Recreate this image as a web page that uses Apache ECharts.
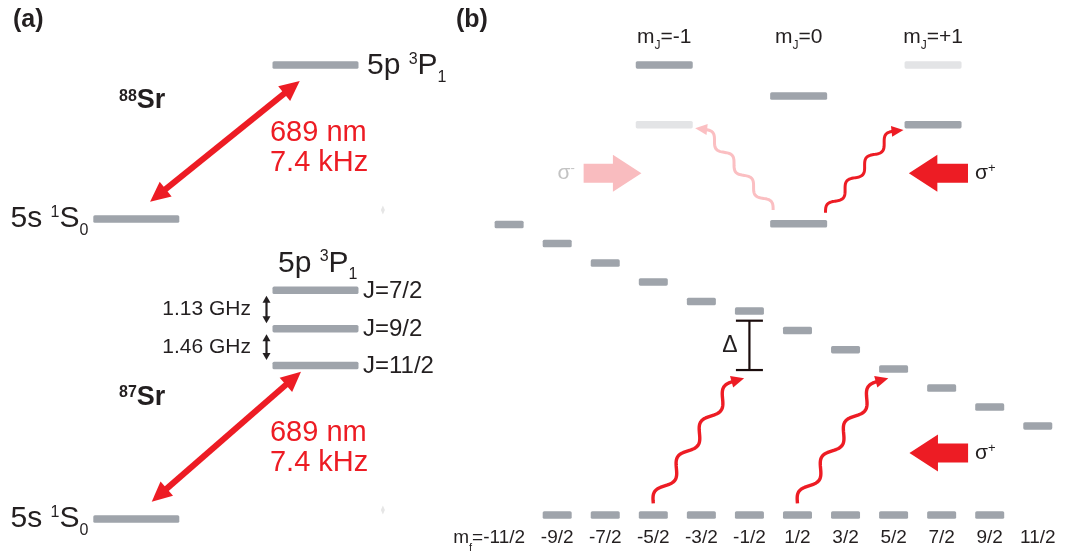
<!DOCTYPE html>
<html>
<head>
<meta charset="utf-8">
<style>
  html, body { margin: 0; padding: 0; background: #ffffff; }
  #chart { width: 1066px; height: 554px; }
</style>
<script src="https://cdn.jsdelivr.net/npm/echarts@6.0.0/dist/echarts.min.js"></script>
</head>
<body>
<div id="chart"></div>
<script>
// ---------------- (a) strontium 689 nm intercombination line ----------------
// schematic level energies (arbitrary units); column 0 = ground, 1 = excited
const sr88Ground = 30.0;                     // 5s 1S0
const sr88Excited = 45.4;                    // 5p 3P1
const sr87Ground = 0.0;                      // 5s 1S0
const sr87Hyperfine = [22.87, 19.03, 15.35]; // 5p 3P1 hyperfine manifold
const hyperfineNames = ['J=7/2', 'J=9/2', 'J=11/2'];
const hyperfineGaps = ['1.13 GHz', '1.46 GHz'];
const lineText = ['689 nm', '7.4 kHz'];
// 689 nm double arrows: [x0, E0, x1, E1]
const sr88Arrow = [0.077, 31.73, 0.912, 43.8];
const sr87Arrow = [0.086, 1.73, 0.919, 14.73];

// ---------------- (b) Zeeman sublevels ----------------
const mfTicks = ['-11/2', '-9/2', '-7/2', '-5/2', '-3/2', '-1/2', '1/2', '3/2', '5/2', '7/2', '9/2', '11/2'];
const mfValues = [-5.5, -4.5, -3.5, -2.5, -1.5, -0.5, 0.5, 1.5, 2.5, 3.5, 4.5, 5.5];
const mfExcitedE = [15.13, 14.14, 13.12, 12.14, 11.12, 10.62, 9.61, 8.61, 7.60, 6.61, 5.62, 4.64];
const mfGroundValues = [-4.5, -3.5, -2.5, -1.5, -0.5, 0.5, 1.5, 2.5, 3.5, 4.5];
const mfGroundE = 0;
// detuning bracket: [mF, upper E, lower E]
const deltaBracket = [-0.5, 10.12, 7.55];
// pumping photons: [mF0, E0, mF1, E1]
const mfPhotons = [[-2.5, 0.61, -0.61, 7.12], [0.5, 0.61, 2.39, 7.12]];
// sigma+ beam: [tail mF, tip mF, E]
const mfSigmaPlusBeam = [4.05, 2.83, 3.23];

// 88Sr J=0 -> J=1 Zeeman structure
const mjTicks = ['-1', '0', '+1'];
const mjValues = [-1, 0, 1];
const mjUpperE = [23.44, 21.82, 20.33];   // dressed levels
const mjFadedE = [20.33, null, 23.44];    // faded levels
const mjGroundE = 15.17;
// photons: [mJ0, E0, mJ1, E1]
const mjPhotonFaded = [-0.19, 15.89, -0.77, 20.14];
const mjPhotonActive = [0.20, 15.74, 0.78, 20.05];
// beams: [tail mJ, tip mJ, E]
const mjSigmaMinusBeam = [-1.60, -1.17, 17.8];
const mjSigmaPlusBeam = [1.26, 0.82, 17.8];

// ---------------- styling ----------------
const FONT = '"Liberation Sans", Arial, Helvetica, sans-serif';
const INK = '#231f20';
const LEVEL = '#9fa4ab';
const LEVEL_FADED = '#e3e4e6';
const RED = '#ed1c24';
const PINK = '#f9bcbf';
const PINK_WAVE = '#fbbfc2';
const SIGMA_FADED = '#c3c3c3';
const BAR_A = 86, BAR_MF = 29, BAR_MJ = 57, BAR_H = 7.5;

// rounded bar outline used as the level symbol
function barPath(w, h, r) {
  return 'path://M' + r + ',0H' + (w - r) + 'Q' + w + ',0 ' + w + ',' + r +
    'V' + (h - r) + 'Q' + w + ',' + h + ' ' + (w - r) + ',' + h +
    'H' + r + 'Q0,' + h + ' 0,' + (h - r) + 'V' + r + 'Q0,0 ' + r + ',0Z';
}

function tok(size, extra) {
  return Object.assign({ fontFamily: FONT, fontSize: size }, extra || {});
}
const LEVEL_RICH = {
  sup: tok(16, { padding: [0, 0, 13, 0] }),
  sub: tok(16, { padding: [23, 0, 0, 0] })
};
const ISO_RICH = { sup: tok(16, { fontWeight: 'bold', padding: [0, 0, 9, 0] }) };
const SIGMA_RICH = { sup: tok(13, { padding: [0, 0, 9, 0] }) };
const MJ_RICH = { sub: tok(12, { padding: [17, 0, 0, 0] }) };

function label(x, y, text, o) {
  o = o || {};
  const style = {
    text: text,
    fill: o.fill || INK,
    fontFamily: FONT,
    fontSize: o.size || 30,
    fontWeight: o.weight || 'normal',
    align: o.align || 'left',
    verticalAlign: 'middle'
  };
  if (o.lineHeight) style.lineHeight = o.lineHeight;
  if (o.rich) style.rich = o.rich;
  return { type: 'text', x: x, y: y, silent: true, style: style };
}

function head(tip, dir, len, half, color) {
  const bx = tip[0] - dir[0] * len, by = tip[1] - dir[1] * len;
  const nx = -dir[1], ny = dir[0];
  return {
    type: 'polygon',
    shape: { points: [tip, [bx + nx * half, by + ny * half], [bx - nx * half, by - ny * half]] },
    style: { fill: color, stroke: null }
  };
}

function doubleArrow(p0, p1, width, len, half, color) {
  const dx = p1[0] - p0[0], dy = p1[1] - p0[1], L = Math.hypot(dx, dy);
  const u = [dx / L, dy / L];
  return [
    { type: 'line',
      shape: { x1: p0[0] + u[0] * (len - 2), y1: p0[1] + u[1] * (len - 2),
               x2: p1[0] - u[0] * (len - 2), y2: p1[1] - u[1] * (len - 2) },
      style: { stroke: color, lineWidth: width } },
    head(p1, u, len, half, color),
    head(p0, [-u[0], -u[1]], len, half, color)
  ];
}

// photon: sine wave along the transition, ending in an arrowhead
function photon(p0, p1, halfPeriods, k, width, color, len, half) {
  function frame(a, b) {
    const dx = b[0] - a[0], dy = b[1] - a[1], L = Math.hypot(dx, dy);
    const u = [dx / L, dy / L];
    let n = [-u[1], u[0]];
    if (n[0] * u[0] > 0) n = [-n[0], -n[1]];
    return { L: L, u: u, n: n };
  }
  let f = frame(p0, p1);
  let te = [f.u[0] - k * f.n[0], f.u[1] - k * f.n[1]];
  let tl = Math.hypot(te[0], te[1]);
  te = [te[0] / tl, te[1] / tl];
  const q = [p1[0] - te[0] * len * 0.8, p1[1] - te[1] * len * 0.8];
  f = frame(p0, q);
  const lambda = 2 * f.L / halfPeriods;
  const A = k * lambda / (2 * Math.PI);
  const pts = [];
  const N = 120;
  for (let i = 0; i <= N; i++) {
    const s = f.L * i / N;
    const off = A * Math.sin(Math.PI * halfPeriods * i / N);
    pts.push([p0[0] + f.u[0] * s + f.n[0] * off, p0[1] + f.u[1] * s + f.n[1] * off]);
  }
  return [
    { type: 'polyline', shape: { points: pts },
      style: { stroke: color, lineWidth: width, fill: null, lineJoin: 'round' } },
    head(p1, te, len, half, color)
  ];
}

function beam(tailX, tipX, cy, color) {
  const s = Math.sign(tipX - tailX);
  const hl = 28.5, sh = 9.5, hh = 18.5;
  const hb = tipX - s * hl;
  return {
    type: 'polygon',
    shape: { points: [[tailX, cy - sh], [hb, cy - sh], [hb, cy - hh], [tipX, cy],
                      [hb, cy + hh], [hb, cy + sh], [tailX, cy + sh]] },
    style: { fill: color, stroke: null }
  };
}

// ---------------- panel (a) annotations ----------------
function renderPanelA(params, api) {
  const P = (x, e) => api.coord([x, e]);
  const half = BAR_A / 2;
  const out = [];
  out.push.apply(out, doubleArrow(P(sr88Arrow[0], sr88Arrow[1]), P(sr88Arrow[2], sr88Arrow[3]), 6, 20, 9.5, RED));
  out.push.apply(out, doubleArrow(P(sr87Arrow[0], sr87Arrow[1]), P(sr87Arrow[2], sr87Arrow[3]), 6, 20, 9.5, RED));

  const g88 = P(0, sr88Ground), e88 = P(1, sr88Excited), g87 = P(0, sr87Ground);
  out.push(label(g88[0] - half - 5, g88[1], '5s {sup|1}S{sub|0}', { align: 'right', rich: LEVEL_RICH }));
  out.push(label(g87[0] - half - 5, g87[1], '5s {sup|1}S{sub|0}', { align: 'right', rich: LEVEL_RICH }));
  out.push(label(e88[0] + half + 8.5, e88[1] + 1, '5p {sup|3}P{sub|1}', { rich: LEVEL_RICH }));

  const hf = sr87Hyperfine.map(e => P(1, e));
  out.push(label(hf[0][0] - half + 5.5, hf[0][1] - 27, '5p {sup|3}P{sub|1}', { rich: LEVEL_RICH }));
  hf.forEach((p, i) => {
    out.push(label(p[0] + half + 4.5, p[1] + 1, hyperfineNames[i], { size: 24 }));
  });
  const ax = hf[0][0] - half - 6;
  for (let i = 0; i < 2; i++) {
    const top = [ax, hf[i][1] + 5.5], bot = [ax, hf[i + 1][1] - 5.5];
    out.push.apply(out, doubleArrow(top, bot, 2.2, 7, 4, INK));
    out.push(label(ax - 15.5, (hf[i][1] + hf[i + 1][1]) / 2, hyperfineGaps[i], { size: 21, align: 'right' }));
  }

  const t88 = P(0.746, 37.1), t87 = P(0.746, 7.1);
  out.push(label(t88[0], t88[1], lineText.join('\n'), { fill: RED, size: 29, lineHeight: 30 }));
  out.push(label(t87[0], t87[1], lineText.join('\n'), { fill: RED, size: 29, lineHeight: 30 }));

  const i88 = P(-0.0965, 41.8), i87 = P(-0.0965, 12.15);
  out.push(label(i88[0], i88[1], '{sup|88}Sr', { size: 27, weight: 'bold', rich: ISO_RICH }));
  out.push(label(i87[0], i87[1], '{sup|87}Sr', { size: 27, weight: 'bold', rich: ISO_RICH }));

  // faint markers to the right of the ground states
  [sr88Ground, sr87Ground].forEach(e => {
    const p = P(1.376, e + 0.9);
    out.push({ type: 'polygon',
      shape: { points: [[p[0], p[1] - 4.5], [p[0] + 2, p[1]], [p[0], p[1] + 4.5], [p[0] - 2, p[1]]] },
      style: { fill: '#e6e6e6', stroke: null } });
  });
  return { type: 'group', children: out };
}

// ---------------- panel (b), mF diagram annotations ----------------
function renderPanelMf(params, api) {
  const x0 = api.coord([0, 0])[0];
  const band = api.size([1, 0])[0];
  const PX = m => x0 + (m + 5.5) * band;
  const PY = e => api.coord([0, e])[1];
  const out = [];
  mfPhotons.forEach(t => {
    out.push.apply(out, photon([PX(t[0]), PY(t[1])], [PX(t[2]), PY(t[3])], 7, 0.8, 3.4, RED, 13, 6));
  });
  const bx = PX(deltaBracket[0]), y1 = PY(deltaBracket[1]), y2 = PY(deltaBracket[2]);
  out.push({ type: 'line', shape: { x1: bx, y1: y1, x2: bx, y2: y2 }, style: { stroke: '#1a0c0c', lineWidth: 2.2 } });
  out.push({ type: 'line', shape: { x1: bx - 13.5, y1: y1, x2: bx + 13.5, y2: y1 }, style: { stroke: '#1a0c0c', lineWidth: 2.2 } });
  out.push({ type: 'line', shape: { x1: bx - 13.5, y1: y2, x2: bx + 13.5, y2: y2 }, style: { stroke: '#1a0c0c', lineWidth: 2.2 } });
  out.push(label(bx - 19.5, (y1 + y2) / 2, '\u0394', { size: 23, align: 'center' }));

  const tail = PX(mfSigmaPlusBeam[0]), tip = PX(mfSigmaPlusBeam[1]), cy = PY(mfSigmaPlusBeam[2]);
  out.push(beam(tail, tip, cy, RED));
  out.push(label(tail + 7, cy, '\u03c3{sup|+}', { size: 21, rich: SIGMA_RICH }));
  return { type: 'group', children: out };
}

// ---------------- panel (b), mJ diagram annotations ----------------
function renderPanelMj(params, api) {
  const PX = m => api.coord([m, 0])[0];
  const PY = e => api.coord([0, e])[1];
  const out = [];
  const f = mjPhotonFaded, a = mjPhotonActive;
  out.push.apply(out, photon([PX(f[0]), PY(f[1])], [PX(f[2]), PY(f[3])], 7, 0.85, 3, PINK_WAVE, 12, 5.5));
  out.push.apply(out, photon([PX(a[0]), PY(a[1])], [PX(a[2]), PY(a[3])], 7, 0.85, 3, RED, 12, 5.5));

  const m1 = mjSigmaMinusBeam, p1 = mjSigmaPlusBeam;
  out.push(beam(PX(m1[0]), PX(m1[1]), PY(m1[2]), PINK));
  out.push(label(PX(m1[0]) - 17.5, PY(m1[2]), '\u03c3{sup|-}', { size: 21, align: 'center', fill: SIGMA_FADED, rich: SIGMA_RICH }));
  out.push(beam(PX(p1[0]), PX(p1[1]), PY(p1[2]), RED));
  out.push(label(PX(p1[0]) + 7, PY(p1[2]), '\u03c3{sup|+}', { size: 21, rich: SIGMA_RICH }));

  const topY = PY(Math.max.apply(null, mjUpperE)) - 27.5;
  mjValues.forEach((m, i) => {
    out.push(label(PX(m), topY, 'm{sub|J}=' + mjTicks[i], { size: 21, align: 'center', rich: MJ_RICH }));
  });
  return { type: 'group', children: out };
}

const chart = echarts.init(document.getElementById('chart'), null, { renderer: 'canvas' });

function levelSeries(xi, yi, w, color, data) {
  return { type: 'scatter', xAxisIndex: xi, yAxisIndex: yi, silent: true, z: 2,
    symbol: barPath(w, BAR_H, 1.6), symbolSize: [w, BAR_H], symbolKeepAspect: false,
    itemStyle: { color: color, opacity: 1 }, data: data };
}

const option = {
  animation: false,
  backgroundColor: '#ffffff',
  graphic: [
    { type: 'text', x: 13, y: 20, silent: true,
      style: { text: '(a)', fill: INK, fontFamily: FONT, fontSize: 25, fontWeight: 'bold', align: 'left', verticalAlign: 'middle' } },
    { type: 'text', x: 456, y: 20, silent: true,
      style: { text: '(b)', fill: INK, fontFamily: FONT, fontSize: 25, fontWeight: 'bold', align: 'left', verticalAlign: 'middle' } }
  ],
  grid: [
    { left: 0, top: 0, width: 450, height: 554, containLabel: false, outerBoundsMode: 'none' },
    { left: 485.1, top: 15.8, width: 576.7, height: 511.2, containLabel: false, outerBoundsMode: 'none' }
  ],
  xAxis: [
    { gridIndex: 0, type: 'value', min: -0.7606, max: 1.7506, show: false },
    { gridIndex: 1, type: 'category', data: mfTicks, position: 'bottom', boundaryGap: true,
      axisLine: { show: false }, axisTick: { show: false }, splitLine: { show: false },
      axisLabel: {
        interval: 0, margin: 11, verticalAlign: 'middle', color: INK,
        fontFamily: FONT, fontSize: 19,
        formatter: (v, i) => i === 0 ? '{m|m}{f|f}{v|=' + v + '}' : v,
        rich: {
          m: tok(19, { color: INK }),
          f: tok(11, { color: INK, padding: [20, 0, 0, 0] }),
          v: tok(19, { color: INK, padding: [0, 40, 0, 0] })
        }
      } },
    { gridIndex: 1, type: 'value', min: -2.333, max: 1.958, position: 'top', show: false }
  ],
  yAxis: [
    { gridIndex: 0, type: 'value', min: -3.5, max: 51.9, show: false },
    { gridIndex: 1, type: 'value', min: -0.625, max: 26, show: false }
  ],
  series: [
    levelSeries(0, 0, BAR_A, LEVEL,
      [[0, sr88Ground], [1, sr88Excited], [0, sr87Ground]].concat(sr87Hyperfine.map(e => [1, e]))),
    levelSeries(1, 1, BAR_MF, LEVEL,
      mfExcitedE.map((e, i) => [i, e]).concat(mfGroundValues.map(m => [mfValues.indexOf(m), mfGroundE]))),
    levelSeries(2, 1, BAR_MJ, LEVEL,
      mjValues.map((m, i) => [m, mjUpperE[i]]).concat([[0, mjGroundE]])),
    levelSeries(2, 1, BAR_MJ, LEVEL_FADED,
      mjValues.map((m, i) => [m, mjFadedE[i]]).filter(d => d[1] != null)),
    { type: 'custom', xAxisIndex: 0, yAxisIndex: 0, silent: true, z: 3, clip: false,
      renderItem: renderPanelA, data: [[0, 0]] },
    { type: 'custom', xAxisIndex: 1, yAxisIndex: 1, silent: true, z: 3, clip: false,
      renderItem: renderPanelMf, data: [[0, 0]] },
    { type: 'custom', xAxisIndex: 2, yAxisIndex: 1, silent: true, z: 3, clip: false,
      renderItem: renderPanelMj, data: [[0, 0]] }
  ]
};
chart.setOption(option);
</script>
</body>
</html>
